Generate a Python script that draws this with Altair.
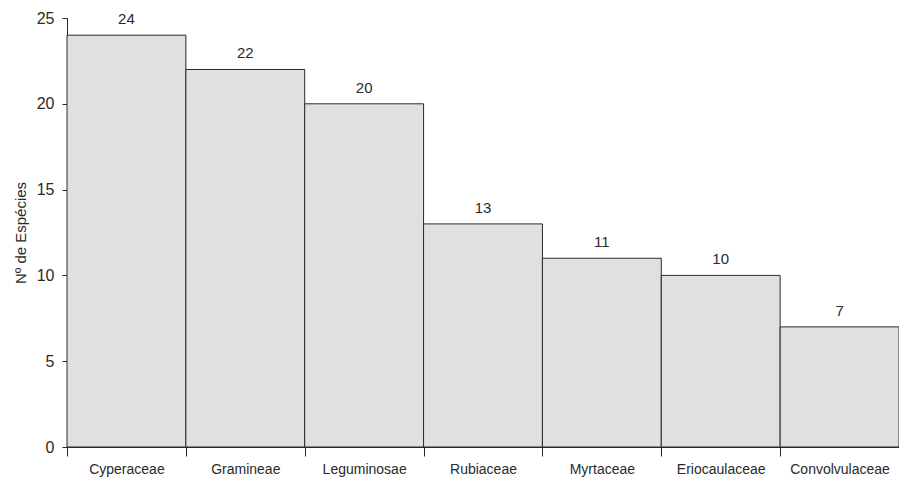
import altair as alt
import pandas as pd

families = ["Cyperaceae", "Gramineae", "Leguminosae", "Rubiaceae",
            "Myrtaceae", "Eriocaulaceae", "Convolvulaceae"]
counts = [24, 22, 20, 13, 11, 10, 7]
y_ticks = [0, 5, 10, 15, 20, 25]

df = pd.DataFrame({"Familia": families, "Especies": counts})

FONT = "Liberation Sans"
INK = "#2a2a2a"

x = alt.X(
    "Familia:N", sort=families,
    scale=alt.Scale(paddingInner=0, paddingOuter=0),
    axis=alt.Axis(title=None, labelAngle=0, tickBand="extent",
                  domainColor=INK, tickColor=INK, labelColor=INK,
                  labelFont=FONT, labelFontSize=14, tickSize=9,
                  labelPadding=6, domainWidth=1),
)
y = alt.Y(
    "Especies:Q",
    scale=alt.Scale(domain=[0, 25], nice=False),
    axis=alt.Axis(title="Nº de Espécies", values=y_ticks, grid=False,
                  domainColor=INK, tickColor=INK, labelColor=INK,
                  labelFont=FONT, labelFontSize=16, tickSize=5,
                  labelPadding=8, titleFont=FONT, titleFontSize=15,
                  titleFontWeight="normal", titleColor=INK, titlePadding=8),
)

bars = alt.Chart(df).mark_bar(
    fill="#e0e0e0", stroke=INK, strokeWidth=1
).encode(x=x, y=y)

labels = alt.Chart(df).mark_text(
    baseline="middle", dy=-16, fontSize=15, font=FONT, color=INK
).encode(x=x, y=y, text="Especies:Q")

chart = (bars + labels).properties(
    width=832, height=429,
    autosize=alt.AutoSizeParams(type="none"),
    padding={"left": 59, "top": 10, "right": 0, "bottom": 30},
    background="white",
).configure_view(stroke=None)

chart.save("out.html", embed_options={"renderer": "svg", "actions": False})
